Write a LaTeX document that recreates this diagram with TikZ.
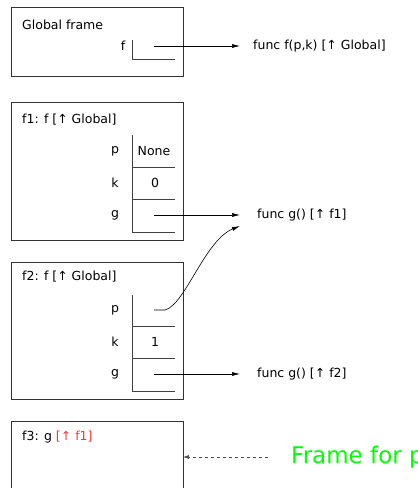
\documentclass[tikz,border=0pt]{standalone}
\usepackage{fontspec}
\setmainfont{DejaVu Sans}
\usetikzlibrary{arrows.meta}
\begin{document}
\begin{tikzpicture}[x=1pt,y=-1pt,
  frame/.style={draw=black!80, line width=0.8pt, anchor=north west, inner sep=0pt, minimum width=172pt},
  cell/.style={draw=black!75, line width=0.8pt},
  lbl/.style={font=\fontsize{12.5}{15}\selectfont, inner sep=0pt},
  ptr/.style={-{Latex[length=8pt,width=4pt]}, line width=0.6pt},
]
\useasboundingbox (0,0) rectangle (418,488);
\clip (0,0) rectangle (418,488);

% Global frame
\node[frame, minimum height=69pt] (gf) at (11,7) {};
\node[lbl, anchor=west] (gft) at (22,25) {Global frame};
\node[lbl] (gff) at (123,46) {f};
\draw[cell] (132,40) -- (132,59) -- (175,59);
\coordinate (gfp) at (154,46);
\node[lbl, anchor=west] (funcf) at (253,46) {func f(p,k) [↑ Global]};
\draw[ptr, shorten >=13pt] (gfp) -- (funcf.west);

% f1
\node[frame, minimum height=138pt] (f1) at (11,102) {};
\node[lbl, anchor=west] (f1t) at (22,120) {f1: f [↑ Global]};
\draw[cell] (132,135) -- (132,232);
\draw[cell] (132,167) -- (175,167);
\draw[cell] (132,199) -- (175,199);
\draw[cell] (132,232) -- (175,232);
\node[lbl] (f1p) at (115,151) {p};
\node[lbl] (f1k) at (115,183) {k};
\node[lbl] (f1g) at (115,215) {g};
\node[lbl] (f1pv) at (154,151) {None};
\node[lbl] (f1kv) at (155,183) {0};
\coordinate (f1gp) at (154,215);
\node[lbl, anchor=west] (funcg1) at (257,215) {func g() [↑ f1]};
\draw[ptr, shorten >=17pt] (f1gp) -- (funcg1.west);
\coordinate (g1in) at (240,226);

% f2
\node[frame, minimum height=137pt] (f2) at (11,262) {};
\node[lbl, anchor=west] (f2t) at (22,277) {f2: f [↑ Global]};
\draw[cell] (132,295) -- (132,391);
\draw[cell] (132,326) -- (175,326);
\draw[cell] (132,358) -- (175,358);
\draw[cell] (132,391) -- (175,391);
\node[lbl] (f2p) at (115,310) {p};
\node[lbl] (f2k) at (115,342) {k};
\node[lbl] (f2g) at (115,374) {g};
\node[lbl] (f2kv) at (155,342) {1};
\coordinate (f2pp) at (154,310);
\coordinate (f2gp) at (154,374);
\node[lbl, anchor=west] (funcg2) at (257,374) {func g() [↑ f2]};
\draw[ptr, shorten >=17pt] (f2gp) -- (funcg2.west);
\draw[ptr] (f2pp) -- (165,310) .. controls (185,305) and (205,240) .. (g1in);

% f3
\node[frame, minimum height=90pt] (f3) at (11,421) {};
\node[lbl, anchor=west] (f3t) at (22,437) {f3: g \textcolor{red!80}{[↑ f1]}};
\node[anchor=west, inner sep=0pt, text=green, font=\fontsize{23}{27}\selectfont] (note) at (291,457) {Frame for p};
\coordinate (f3in) at (183,457);
\draw[dashed, draw=black!70, line width=0.6pt, -{Latex[length=6pt,width=4pt]}, shorten <=23pt] (note.west) -- (f3in);
\end{tikzpicture}
\end{document}
